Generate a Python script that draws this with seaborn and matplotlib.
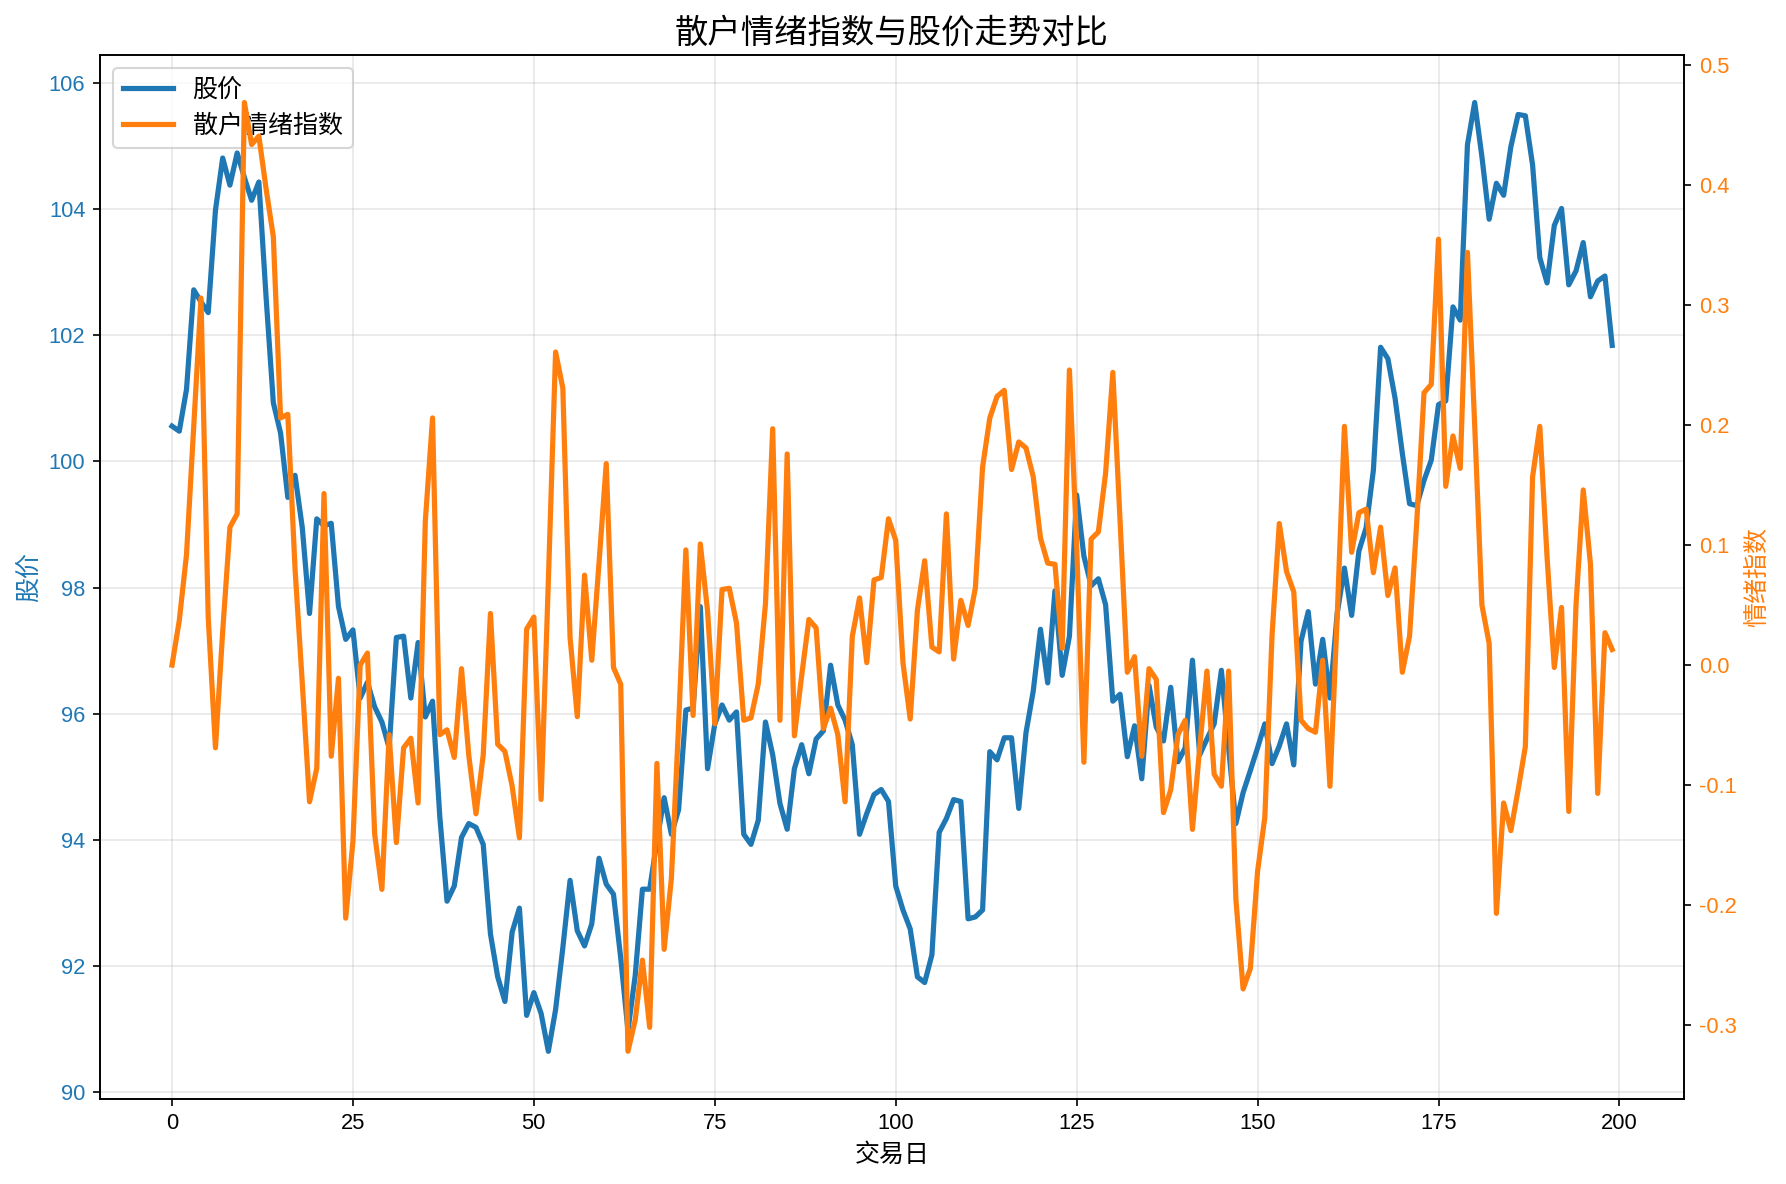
import numpy as np
import pandas as pd
import seaborn as sns
import matplotlib.pyplot as plt

# 股价 (left axis), one value per trading day 0..199
price = [
    100.56, 100.48, 101.14, 102.72, 102.53, 102.36, 103.98, 104.81, 104.38, 104.89,
    104.50, 104.14, 104.43, 102.60, 100.93, 100.45, 99.43, 99.78, 98.95, 97.59,
    99.09, 98.98, 99.02, 97.70, 97.18, 97.33, 96.25, 96.50, 96.11, 95.87,
    95.46, 97.21, 97.23, 96.25, 97.13, 95.95, 96.20, 94.37, 93.03, 93.27,
    94.04, 94.26, 94.20, 93.93, 92.51, 91.83, 91.44, 92.54, 92.92, 91.22,
    91.58, 91.25, 90.65, 91.31, 92.29, 93.36, 92.56, 92.32, 92.67, 93.71,
    93.30, 93.14, 92.13, 90.98, 91.85, 93.22, 93.22, 93.98, 94.67, 94.09,
    94.48, 96.06, 96.09, 97.70, 95.13, 95.84, 96.14, 95.90, 96.03, 94.09,
    93.93, 94.31, 95.87, 95.35, 94.58, 94.17, 95.13, 95.51, 95.05, 95.60,
    95.73, 96.77, 96.14, 95.90, 95.51, 94.09, 94.42, 94.72, 94.80, 94.61,
    93.27, 92.89, 92.59, 91.83, 91.74, 92.18, 94.12, 94.34, 94.64, 94.61,
    92.75, 92.78, 92.89, 95.40, 95.27, 95.62, 95.62, 94.50, 95.70, 96.36,
    97.34, 96.49, 97.95, 96.61, 97.23, 99.47, 98.50, 98.03, 98.14, 97.73,
    96.20, 96.31, 95.32, 95.81, 94.97, 96.45, 95.79, 95.57, 96.42, 95.24,
    95.46, 96.85, 95.35, 95.60, 95.84, 96.69, 95.46, 94.26, 94.75, 95.10,
    95.46, 95.84, 95.21, 95.49, 95.84, 95.19, 97.15, 97.62, 96.47, 97.18,
    96.25, 97.59, 98.31, 97.56, 98.58, 98.95, 99.86, 101.81, 101.63, 101.00,
    100.13, 99.33, 99.30, 99.70, 100.02, 100.90, 100.96, 102.45, 102.24, 105.02,
    105.69, 104.83, 103.84, 104.41, 104.22, 104.99, 105.50, 105.48, 104.70, 103.23,
    102.83, 103.74, 104.01, 102.80, 103.02, 103.47, 102.61, 102.86, 102.94, 101.84,
]

# 散户情绪指数 (right axis)
sentiment = [
    0.000, 0.037, 0.092, 0.199, 0.306, 0.040, -0.069, 0.028, 0.115, 0.126,
    0.469, 0.434, 0.441, 0.397, 0.357, 0.206, 0.209, 0.080, -0.015, -0.114,
    -0.086, 0.143, -0.076, -0.011, -0.211, -0.147, 0.000, 0.010, -0.141, -0.187,
    -0.058, -0.148, -0.069, -0.061, -0.115, 0.120, 0.206, -0.058, -0.054, -0.077,
    -0.003, -0.075, -0.124, -0.075, 0.043, -0.066, -0.072, -0.101, -0.144, 0.030,
    0.040, -0.112, 0.070, 0.261, 0.231, 0.023, -0.043, 0.075, 0.004, 0.085,
    0.168, -0.002, -0.016, -0.322, -0.296, -0.246, -0.302, -0.082, -0.237, -0.178,
    -0.050, 0.096, -0.042, 0.101, 0.045, -0.049, 0.063, 0.064, 0.035, -0.046,
    -0.044, -0.016, 0.051, 0.197, -0.046, 0.176, -0.059, -0.009, 0.038, 0.031,
    -0.053, -0.036, -0.058, -0.114, 0.024, 0.056, 0.002, 0.071, 0.073, 0.122,
    0.104, 0.002, -0.045, 0.046, 0.087, 0.015, 0.011, 0.126, 0.005, 0.054,
    0.033, 0.064, 0.165, 0.206, 0.224, 0.229, 0.163, 0.186, 0.181, 0.157,
    0.106, 0.085, 0.084, 0.014, 0.246, 0.100, -0.081, 0.105, 0.111, 0.160,
    0.244, 0.120, -0.006, 0.007, -0.076, -0.003, -0.012, -0.123, -0.104, -0.058,
    -0.046, -0.137, -0.069, -0.005, -0.091, -0.101, -0.005, -0.195, -0.270, -0.253,
    -0.172, -0.127, 0.025, 0.118, 0.078, 0.061, -0.046, -0.053, -0.056, 0.004,
    -0.101, 0.040, 0.199, 0.094, 0.127, 0.130, 0.077, 0.115, 0.058, 0.081,
    -0.006, 0.024, 0.120, 0.227, 0.234, 0.355, 0.149, 0.191, 0.164, 0.344,
    0.200, 0.050, 0.018, -0.207, -0.115, -0.138, -0.104, -0.068, 0.157, 0.199,
    0.090, -0.002, 0.048, -0.122, 0.050, 0.146, 0.084, -0.107, 0.027, 0.013,
]

days = np.arange(len(price))
df = pd.DataFrame({'day': days, 'price': price, 'sentiment': sentiment})

plt.rcParams['font.family'] = ['Liberation Sans', 'Noto Sans CJK SC', 'DejaVu Sans']
plt.rcParams['axes.unicode_minus'] = False

c_price = '#1f77b4'
c_sent = '#ff7f0e'

fig, ax = plt.subplots(figsize=(1786 / 150, 1184 / 150), dpi=150)
fig.subplots_adjust(left=0.056, right=0.943, top=0.9535, bottom=0.072)

sns.lineplot(data=df, x='day', y='price', ax=ax, color=c_price, linewidth=2.5, label='股价', legend=False)
ax.set_xlabel('交易日', fontsize=12)
ax.set_ylabel('股价', color=c_price, fontsize=12)
ax.tick_params(axis='y', labelcolor=c_price, labelsize=10.5)
ax.tick_params(axis='x', labelsize=10.5)
ax.grid(True, alpha=0.3)

ax2 = ax.twinx()
sns.lineplot(data=df, x='day', y='sentiment', ax=ax2, color=c_sent, linewidth=2.5, label='散户情绪指数', legend=False)
ax2.set_ylabel('情绪指数', color=c_sent, fontsize=12)
ax2.tick_params(axis='y', labelcolor=c_sent, labelsize=10.5)

# 合并图例
h1, l1 = ax.get_legend_handles_labels()
h2, l2 = ax2.get_legend_handles_labels()
ax.legend(h1 + h2, l1 + l2, loc='upper left', fontsize=12)

ax.set_title('散户情绪指数与股价走势对比', fontsize=16)

plt.savefig('out.png', dpi=150)
